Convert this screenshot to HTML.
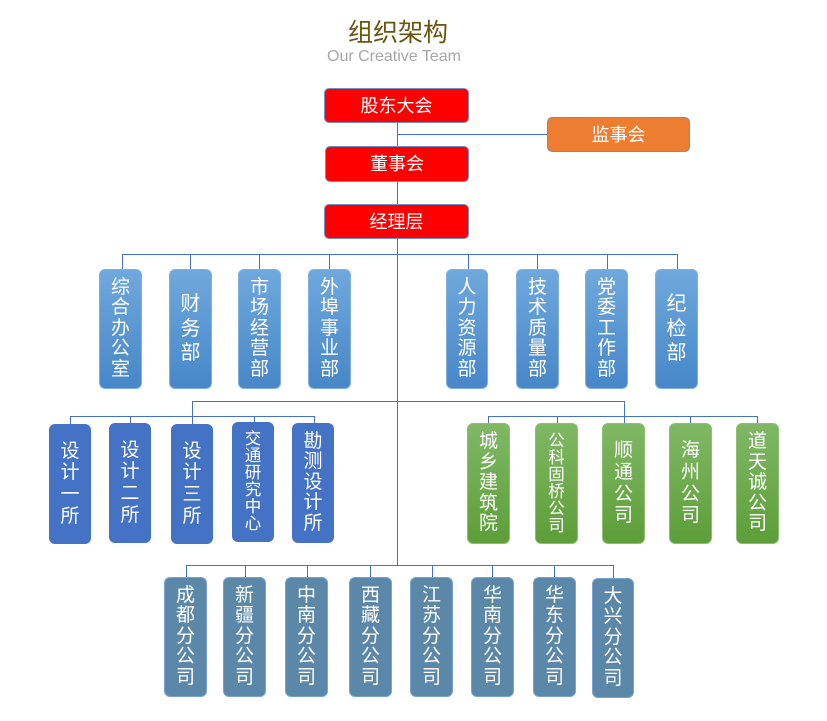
<!DOCTYPE html>
<html>
<head>
<meta charset="utf-8">
<style>
html,body{margin:0;padding:0;background:#fff;}
body{width:827px;height:721px;position:relative;overflow:hidden;font-family:"Liberation Sans","Noto Sans CJK SC",sans-serif;}
svg.c{position:absolute;left:0;top:0;}
.t1{position:absolute;left:298px;top:17px;width:200px;text-align:center;font-size:25px;line-height:32px;color:#6b5410;font-family:"Liberation Sans","Noto Sans CJK SC",sans-serif;}
.t2{position:absolute;left:294px;top:47px;width:200px;text-align:center;font-size:16px;line-height:20px;color:#a6a6a6;}
.b{position:absolute;box-sizing:border-box;display:flex;flex-direction:column;align-items:center;justify-content:center;color:#fff;font-family:"Liberation Sans","Noto Sans CJK SC",sans-serif;}
.h{border-radius:5px;border:1px solid #6f8fc8;font-size:18px;line-height:20px;}
.red{background:#ff0000;}
.org{background:#ed7d31;}
.v{border-radius:6px;font-size:19px;}
.v span{display:block;text-align:center;}
.lb{background:linear-gradient(#6fa8dc,#4787c8);border:1px solid #7fb0e0;}
.db{background:#4472c4;}
.gr{background:linear-gradient(#80b865,#5d9e38);border:1px solid #8cc070;}
.sl{background:#5b87a8;border:1px solid #76a2d6;}
.n5 span{line-height:20.5px;height:20.5px;}
.n4 span{line-height:21.7px;height:21.7px;}
.n3 span{line-height:24.5px;height:24.5px;font-size:20px;}
.n6 span{line-height:17px;height:17px;font-size:16.5px;}
</style>
</head>
<body>
<svg class="c" width="827" height="721" viewBox="0 0 827 721">
<g stroke="#4472c4" stroke-width="1" fill="none" shape-rendering="crispEdges">
<line x1="397.5" y1="123" x2="397.5" y2="565"/>
<line x1="397" y1="134.5" x2="547" y2="134.5"/>
<line x1="122" y1="254.5" x2="678" y2="254.5"/>
<line x1="122.5" y1="254" x2="122.5" y2="269"/>
<line x1="190.5" y1="254" x2="190.5" y2="269"/>
<line x1="259.5" y1="254" x2="259.5" y2="269"/>
<line x1="329.5" y1="254" x2="329.5" y2="269"/>
<line x1="468.5" y1="254" x2="468.5" y2="269"/>
<line x1="537.5" y1="254" x2="537.5" y2="269"/>
<line x1="607.5" y1="254" x2="607.5" y2="269"/>
<line x1="677.5" y1="254" x2="677.5" y2="269"/>
<line x1="192" y1="401.5" x2="625" y2="401.5"/>
<line x1="192.5" y1="401" x2="192.5" y2="424"/>
<line x1="624.5" y1="401" x2="624.5" y2="423"/>
<line x1="70" y1="416.5" x2="315" y2="416.5"/>
<line x1="70.5" y1="416" x2="70.5" y2="424"/>
<line x1="130.5" y1="416" x2="130.5" y2="423"/>
<line x1="254.5" y1="416" x2="254.5" y2="422"/>
<line x1="314.5" y1="416" x2="314.5" y2="423"/>
<line x1="488" y1="416.5" x2="758" y2="416.5"/>
<line x1="488.5" y1="416" x2="488.5" y2="423"/>
<line x1="557.5" y1="416" x2="557.5" y2="423"/>
<line x1="690.5" y1="416" x2="690.5" y2="423"/>
<line x1="757.5" y1="416" x2="757.5" y2="423"/>
<line x1="186" y1="565.5" x2="614" y2="565.5"/>
<line x1="186.5" y1="565" x2="186.5" y2="577"/>
<line x1="245.5" y1="565" x2="245.5" y2="577"/>
<line x1="307.5" y1="565" x2="307.5" y2="577"/>
<line x1="370.5" y1="565" x2="370.5" y2="577"/>
<line x1="432.5" y1="565" x2="432.5" y2="577"/>
<line x1="492.5" y1="565" x2="492.5" y2="577"/>
<line x1="554.5" y1="565" x2="554.5" y2="577"/>
<line x1="613.5" y1="565" x2="613.5" y2="578"/>
</g>
</svg>

<div class="t1">组织架构</div>
<div class="t2">Our Creative Team</div>

<div class="b h red" style="left:324px;top:88px;width:145px;height:35px;">股东大会</div>
<div class="b h org" style="left:547px;top:117px;width:143px;height:35px;">监事会</div>
<div class="b h red" style="left:325px;top:146px;width:144px;height:36px;">董事会</div>
<div class="b h red" style="left:324px;top:204px;width:145px;height:35px;">经理层</div>

<!-- row 2 -->
<div class="b v lb n5" style="left:99px;top:269px;width:43px;height:120px;"><span>综</span><span>合</span><span>办</span><span>公</span><span>室</span></div>
<div class="b v lb n3" style="left:169px;top:269px;width:43px;height:120px;"><span>财</span><span>务</span><span>部</span></div>
<div class="b v lb n5" style="left:238px;top:269px;width:43px;height:120px;"><span>市</span><span>场</span><span>经</span><span>营</span><span>部</span></div>
<div class="b v lb n5" style="left:308px;top:269px;width:43px;height:120px;"><span>外</span><span>埠</span><span>事</span><span>业</span><span>部</span></div>
<div class="b v lb n5" style="left:446px;top:269px;width:42px;height:120px;"><span>人</span><span>力</span><span>资</span><span>源</span><span>部</span></div>
<div class="b v lb n5" style="left:516px;top:269px;width:43px;height:120px;"><span>技</span><span>术</span><span>质</span><span>量</span><span>部</span></div>
<div class="b v lb n5" style="left:585px;top:269px;width:43px;height:120px;"><span>党</span><span>委</span><span>工</span><span>作</span><span>部</span></div>
<div class="b v lb n3" style="left:655px;top:269px;width:43px;height:120px;"><span>纪</span><span>检</span><span>部</span></div>

<!-- row 3 left -->
<div class="b v db n4" style="left:49px;top:424px;width:42px;height:120px;"><span>设</span><span>计</span><span>一</span><span>所</span></div>
<div class="b v db n4" style="left:109px;top:423px;width:42px;height:120px;"><span>设</span><span>计</span><span>二</span><span>所</span></div>
<div class="b v db n4" style="left:171px;top:424px;width:42px;height:120px;"><span>设</span><span>计</span><span>三</span><span>所</span></div>
<div class="b v db n6" style="left:232px;top:422px;width:42px;height:120px;"><span>交</span><span>通</span><span>研</span><span>究</span><span>中</span><span>心</span></div>
<div class="b v db n5" style="left:292px;top:423px;width:42px;height:120px;"><span>勘</span><span>测</span><span>设</span><span>计</span><span>所</span></div>

<!-- row 3 right -->
<div class="b v gr n5" style="left:467px;top:423px;width:43px;height:121px;"><span>城</span><span>乡</span><span>建</span><span>筑</span><span>院</span></div>
<div class="b v gr n6" style="left:535px;top:423px;width:43px;height:121px;"><span>公</span><span>科</span><span>固</span><span>桥</span><span>公</span><span>司</span></div>
<div class="b v gr n4" style="left:602px;top:423px;width:43px;height:121px;"><span>顺</span><span>通</span><span>公</span><span>司</span></div>
<div class="b v gr n4" style="left:669px;top:423px;width:43px;height:121px;"><span>海</span><span>州</span><span>公</span><span>司</span></div>
<div class="b v gr n5" style="left:736px;top:423px;width:43px;height:121px;"><span>道</span><span>天</span><span>诚</span><span>公</span><span>司</span></div>

<!-- row 4 -->
<div class="b v sl n5" style="left:164px;top:577px;width:43px;height:120px;"><span>成</span><span>都</span><span>分</span><span>公</span><span>司</span></div>
<div class="b v sl n5" style="left:223px;top:577px;width:43px;height:120px;"><span>新</span><span>疆</span><span>分</span><span>公</span><span>司</span></div>
<div class="b v sl n5" style="left:285px;top:577px;width:43px;height:120px;"><span>中</span><span>南</span><span>分</span><span>公</span><span>司</span></div>
<div class="b v sl n5" style="left:349px;top:577px;width:43px;height:120px;"><span>西</span><span>藏</span><span>分</span><span>公</span><span>司</span></div>
<div class="b v sl n5" style="left:410px;top:577px;width:43px;height:120px;"><span>江</span><span>苏</span><span>分</span><span>公</span><span>司</span></div>
<div class="b v sl n5" style="left:471px;top:577px;width:43px;height:120px;"><span>华</span><span>南</span><span>分</span><span>公</span><span>司</span></div>
<div class="b v sl n5" style="left:533px;top:577px;width:43px;height:120px;"><span>华</span><span>东</span><span>分</span><span>公</span><span>司</span></div>
<div class="b v sl n5" style="left:592px;top:578px;width:42px;height:120px;"><span>大</span><span>兴</span><span>分</span><span>公</span><span>司</span></div>
</body>
</html>
